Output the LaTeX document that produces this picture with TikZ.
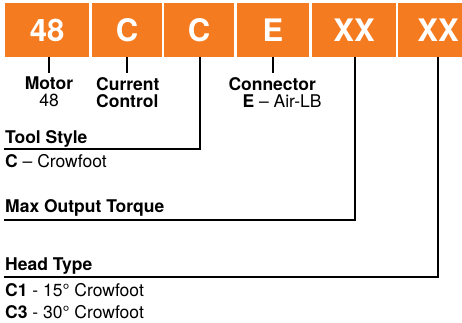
\documentclass[tikz,border=0pt]{standalone}
\usepackage{fontspec}
\setmainfont{TeX Gyre Heros}
\usepackage{tikz}
\usetikzlibrary{positioning}
\definecolor{codeorange}{HTML}{F47B20}

\begin{document}
\begin{tikzpicture}[
  x=1pt, y=-1pt,
  code/.style={fill=codeorange, text=white, minimum height=54pt, inner sep=0pt,
               font=\fontsize{31}{31}\selectfont\bfseries, minimum width=#1},
  lbl/.style={inner xsep=0pt, inner ysep=4pt, font=\fontsize{17.5}{17}\selectfont},
  lead/.style={line width=2pt},
  tick/.style={line width=2pt}
]
  \useasboundingbox (0,0) rectangle (462,322);
  \clip (0,0) rectangle (462,322);

  % Code boxes
  \node[code=84pt] (motor) at (47, 30) {48};
  \node[code=70pt] (current) at (127, 30) {C};
  \node[code=70pt] (style) at (199, 30) {C};
  \node[code=72pt] (conn) at (273, 30) {E};
  \node[code=84pt] (torque) at (354, 30) {XX};
  \node[code=80pt] (head) at (438, 30) {XX};

  % Short labels under the boxes
  \node[lbl, anchor=north, align=center] (motorlbl) at (49, 73) {\textbf{Motor}\\48};
  \node[lbl, anchor=north west, align=left] (currentlbl) at (96, 73) {\textbf{Current}\\\textbf{Control}};
  \node[lbl, anchor=north, align=left] (connlbl) at (275, 73) {\textbf{Connector}\\\hspace{14pt}\textbf{E} -- Air-LB};

  \draw[tick] (motorlbl.north |- motor.south) -- (motorlbl.north);
  \draw[tick] (current.south) -- (current.south |- currentlbl.north);
  \draw[tick] (conn.south) -- (conn.south |- connlbl.north);

  % Long leads
  \node[lbl, anchor=base west] (stylelbl) at (5, 143) {\textbf{Tool Style}};
  \node[lbl, anchor=base west] (styleval) at (5, 167) {\textbf{C} -- Crowfoot};
  \coordinate (styleend) at (4, 149);
  \draw[lead] (style.south -| 200,0) |- (styleend);

  \node[lbl, anchor=base west] (torquelbl) at (5, 212) {\textbf{Max Output Torque}};
  \coordinate (torqueend) at (4, 220);
  \draw[lead] (torque.south -| 355,0) |- (torqueend);

  \node[lbl, anchor=base west] (headlbl) at (5, 270) {\textbf{Head Type}};
  \node[lbl, anchor=base west] (headone) at (5, 296) {\textbf{C1} - 15° Crowfoot};
  \node[lbl, anchor=base west] (headthree) at (5, 318) {\textbf{C3} - 30° Crowfoot};
  \coordinate (headend) at (4, 277);
  \draw[lead] (head.south) |- (headend);
\end{tikzpicture}
\end{document}
